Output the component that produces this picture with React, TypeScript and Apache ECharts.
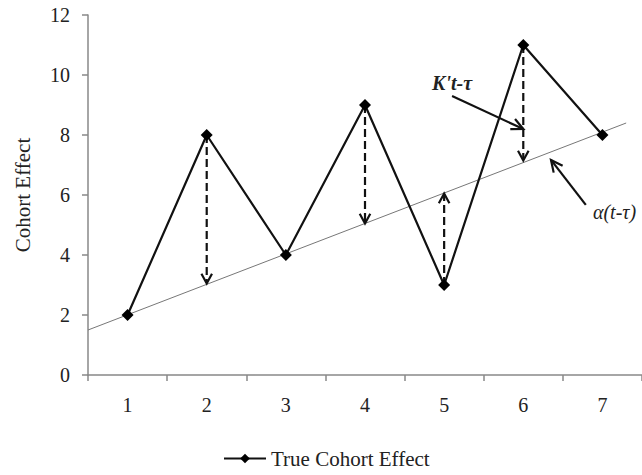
import React, { useEffect, useRef } from "react";
import * as echarts from "echarts";

const categories = ["1", "2", "3", "4", "5", "6", "7"];
const cohortValues = [2, 8, 4, 9, 3, 11, 8];
const seriesName = "True Cohort Effect";
const yAxisName = "Cohort Effect";
// trend line alpha(t - tau), in category units (category i sits at x = i)
const trendLine = [
  [0.5, 1.5],
  [7.3, 8.4],
];
// dashed deviation arrows: [category, from value, to value]
const gapArrows = [
  [2, 8, 3.05],
  [4, 9, 5.05],
  [5, 3, 6.05],
  [6, 11, 7.15],
];
// annotation pointer arrows: [x0, y0, x1, y1]
const pointerArrows = [
  [5.1, 9.3, 6.0, 8.2],
  [6.79, 5.67, 6.35, 7.17],
];
const annotationTexts = ["K't-τ", "α(t-τ)"];
const annotationPos = [
  [5.1, 9.72],
  [6.88, 5.43],
];

const FONT = "'Liberation Serif', 'DejaVu Serif', serif";

function arrowHead(p0: number[], p1: number[], L = 11, ang = 0.5) {
  const dx = p1[0] - p0[0];
  const dy = p1[1] - p0[1];
  const len = Math.sqrt(dx * dx + dy * dy) || 1;
  const ux = dx / len;
  const uy = dy / len;
  const rot = (a: number) => [
    ux * Math.cos(a) - uy * Math.sin(a),
    ux * Math.sin(a) + uy * Math.cos(a),
  ];
  const r1 = rot(ang);
  const r2 = rot(-ang);
  return [
    [p1[0] - L * r1[0], p1[1] - L * r1[1]],
    [p1[0], p1[1]],
    [p1[0] - L * r2[0], p1[1] - L * r2[1]],
  ];
}

export default function App() {
  const ref = useRef<HTMLDivElement>(null);
  useEffect(() => {
    document.body.style.margin = "0";
    if (!ref.current) return;
    const chart = echarts.init(ref.current, undefined, { renderer: "svg" });
    chart.setOption({
      animation: false,
      backgroundColor: "#ffffff",
      grid: { left: 88, top: 15, height: 360, width: 559 },
      legend: {
        data: [seriesName],
        top: 443,
        left: 218,
        itemWidth: 42,
        itemHeight: 12,
        textStyle: { fontFamily: FONT, fontSize: 21, color: "#222" },
      },
      xAxis: [
        {
          type: "category",
          data: categories,
          boundaryGap: true,
          axisLine: { lineStyle: { color: "#888", width: 1.5 } },
          axisTick: { show: true, length: 6, lineStyle: { color: "#888", width: 1.5 } },
          axisLabel: { fontFamily: FONT, fontSize: 20, color: "#222", margin: 20 },
          splitLine: { show: false },
        },
        {
          type: "value",
          min: 0.5,
          max: 7.5,
          show: false,
        },
      ],
      yAxis: {
        type: "value",
        min: 0,
        max: 12,
        interval: 2,
        name: yAxisName,
        nameLocation: "middle",
        nameRotate: 90,
        nameGap: 55,
        nameTextStyle: { fontFamily: FONT, fontSize: 21, color: "#222" },
        axisLine: { show: true, lineStyle: { color: "#888", width: 1.5 } },
        axisTick: { show: true, length: 6, lineStyle: { color: "#888", width: 1.5 } },
        axisLabel: { fontFamily: FONT, fontSize: 20, color: "#222", margin: 18 },
        splitLine: { show: false },
      },
      series: [
        {
          name: "trend",
          type: "line",
          xAxisIndex: 1,
          data: trendLine,
          symbol: "none",
          lineStyle: { color: "#777", width: 1 },
          z: 1,
          silent: true,
        },
        {
          name: "gaps",
          type: "custom",
          xAxisIndex: 1,
          data: gapArrows,
          encode: { x: 0, y: [1, 2] },
          clip: false,
          z: 2,
          renderItem: (params: any, api: any) => {
            const x = api.value(0);
            const p0 = api.coord([x, api.value(1)]);
            const p1 = api.coord([x, api.value(2)]);
            return {
              type: "group",
              children: [
                {
                  type: "line",
                  shape: { x1: p0[0], y1: p0[1], x2: p1[0], y2: p1[1] - (p1[1] > p0[1] ? 1 : -1) },
                  style: { stroke: "#111", lineWidth: 2.2, lineDash: [8, 4] },
                },
                {
                  type: "polyline",
                  shape: { points: arrowHead(p0, p1) },
                  style: { stroke: "#111", lineWidth: 2.2, fill: "none" },
                },
              ],
            };
          },
        },
        {
          name: "pointers",
          type: "custom",
          xAxisIndex: 1,
          data: pointerArrows,
          encode: { x: [0, 2], y: [1, 3] },
          clip: false,
          z: 3,
          renderItem: (params: any, api: any) => {
            const p0 = api.coord([api.value(0), api.value(1)]);
            const p1 = api.coord([api.value(2), api.value(3)]);
            return {
              type: "group",
              children: [
                {
                  type: "line",
                  shape: { x1: p0[0], y1: p0[1], x2: p1[0], y2: p1[1] },
                  style: { stroke: "#111", lineWidth: 2.2 },
                },
                {
                  type: "polyline",
                  shape: { points: arrowHead(p0, p1, 13, 0.45) },
                  style: { stroke: "#111", lineWidth: 2.2, fill: "none" },
                },
              ],
            };
          },
        },
        {
          name: "annotations",
          type: "custom",
          xAxisIndex: 1,
          data: annotationPos,
          encode: { x: 0, y: 1 },
          clip: false,
          z: 4,
          renderItem: (params: any, api: any) => {
            const p = api.coord([api.value(0), api.value(1)]);
            const i = params.dataIndex;
            return {
              type: "text",
              x: p[0],
              y: p[1],
              style: {
                text: annotationTexts[i],
                fontFamily: FONT,
                fontSize: 20,
                fontStyle: "italic",
                fontWeight: i === 0 ? "bold" : "normal",
                fill: "#222",
                align: i === 0 ? "center" : "left",
                verticalAlign: "middle",
              },
            };
          },
        },
        {
          name: seriesName,
          type: "line",
          data: cohortValues,
          symbol: "diamond",
          symbolSize: 12,
          lineStyle: { color: "#111", width: 2.2 },
          itemStyle: { color: "#000" },
          z: 5,
        },
      ],
    });
    return () => chart.dispose();
  }, []);
  return <div ref={ref} style={{ width: 642, height: 475 }} />;
}
